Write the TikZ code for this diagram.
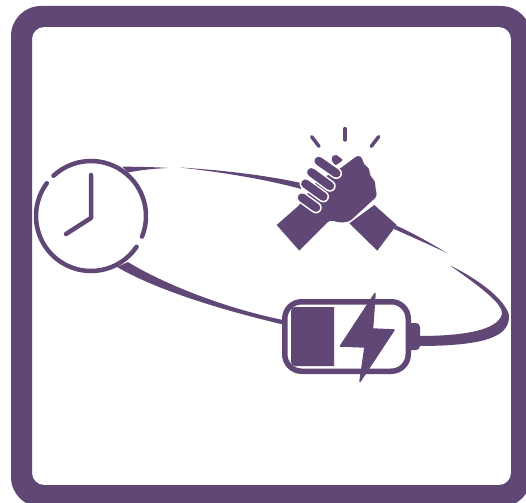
\documentclass[tikz,border=0pt]{standalone}
\definecolor{plum}{HTML}{614775}
\tikzset{
    ink/.style={fill=plum, draw=none},
    stroke/.style={draw=plum, line width=#1, line cap=round, line join=round},
    stroke/.default=4.5pt,
    finger/.style={draw=plum, line width=8.5pt, line cap=round},
    halo/.style={draw=white, line width=11.5pt, line cap=round},
}
\newcommand{\fingerbar}[2]{
    \draw[halo] #1 -- #2;
    \draw[finger] #1 -- #2;
}

\begin{document}
\begin{tikzpicture}[x=1pt,y=-1pt]
    \useasboundingbox (0,0) rectangle (526,502);
    \clip (0,0) rectangle (526,502);
    \fill[white] (0,0) rectangle (526,502);
    % frame
    \fill[ink, even odd rule]
        [rounded corners=30pt] (11,6) rectangle (531,507)
        [rounded corners=12pt] (32,27) rectangle (511,485);

    % clock
    \coordinate (clockcenter) at (91,216);
    \draw[stroke] (clockcenter) ++(133:55pt) arc[start angle=133, end angle=-22, radius=55pt];
    \draw[stroke] (clockcenter) ++(-34:55pt) arc[start angle=-34, end angle=-216.5, radius=55pt];
    \draw[stroke] (91,175) -- (91,218) -- (66,234);

    % links
    \fill[ink] (122,166.5) .. controls (140,167) and (155,167) .. (169,168)
        .. controls (155,168.5) and (140,170) .. (128,172.5) -- cycle;
    \fill[ink] (180,167.5) .. controls (220,170) and (265,175) .. (301,183)
        -- (301,189) .. controls (265,179) and (220,172) .. cycle;
    \fill[ink] (396,225.5) .. controls (415,234) and (432,244) .. (447,253)
        .. controls (430,245) and (412,237) .. (394,229) -- cycle;
    \fill[ink] (450,265.5) .. controls (480,280) and (505,300) .. (509,315)
        .. controls (510,335) and (490,346) .. (418,346) -- (418,336)
        .. controls (465,336) and (498,330) .. (502,314)
        .. controls (503,304) and (482,288) .. cycle;
    \fill[ink] (128,262) .. controls (155,279) and (215,306) .. (283,320)
        -- (283,324.5) .. controls (230,312) and (160,292) .. (117,267) -- cycle;

    % arms and fist
    \begin{scope}[shift={(260,110)},x=0.3333pt,y=-0.3333pt]
        \fill[ink] (268,340) -- (343,285) -- (410,345) -- (352,422) -- cycle;
        \fill[ink, rounded corners=3pt] (245,172) -- (295,135) -- (308,145) -- (310,162)
            -- (328,175) -- (330,198) -- (345,212) -- (347,240) -- (352,258)
            -- (268,335) -- (240,338) -- (210,330) [sharp corners] -- (118,422)
            -- (50,345) -- (115,288) -- (170,215) -- cycle;
        \fill[ink, rounded corners=2pt] (212,146) -- (225,132) -- (250,150) -- (226,167) -- cycle;
        \fingerbar{(176,153)}{(229,190)}
        \fingerbar{(154,187)}{(210,228)}
        \fingerbar{(136,221)}{(190,260)}
        \fingerbar{(126,263)}{(168,293)}
        % rays
        \draw[stroke=3.5pt] (155,80) -- (177,109);
        \draw[stroke=3.5pt] (255,56) -- (255,90);
        \draw[stroke=3.5pt] (356,80) -- (334,109);
    \end{scope}

    % battery
    \draw[stroke=5.5pt, rounded corners=17pt] (284.75,301.75) rectangle (408.25,371.25);
    \fill[ink] (334,307) -- (334,366) -- (295,366) arc[start angle=270, end angle=180, radius=4pt]
        -- (291,311) arc[start angle=180, end angle=90, radius=4pt] -- cycle;
    \fill[ink] (409,323) -- (416,323) arc[start angle=90, end angle=0, radius=4pt]
        -- (420,346) arc[start angle=0, end angle=-90, radius=4pt] -- (409,350) -- cycle;
    \fill[ink] (375,293.5) -- (340.5,346) -- (365,347) -- (360,381.5) -- (394,330) -- (372.5,329) -- cycle;
    \draw[stroke=1.5pt] (375,293.5) -- (340.5,346) -- (365,347) -- (360,381.5) -- (394,330) -- (372.5,329) -- cycle;
\end{tikzpicture}
\end{document}
